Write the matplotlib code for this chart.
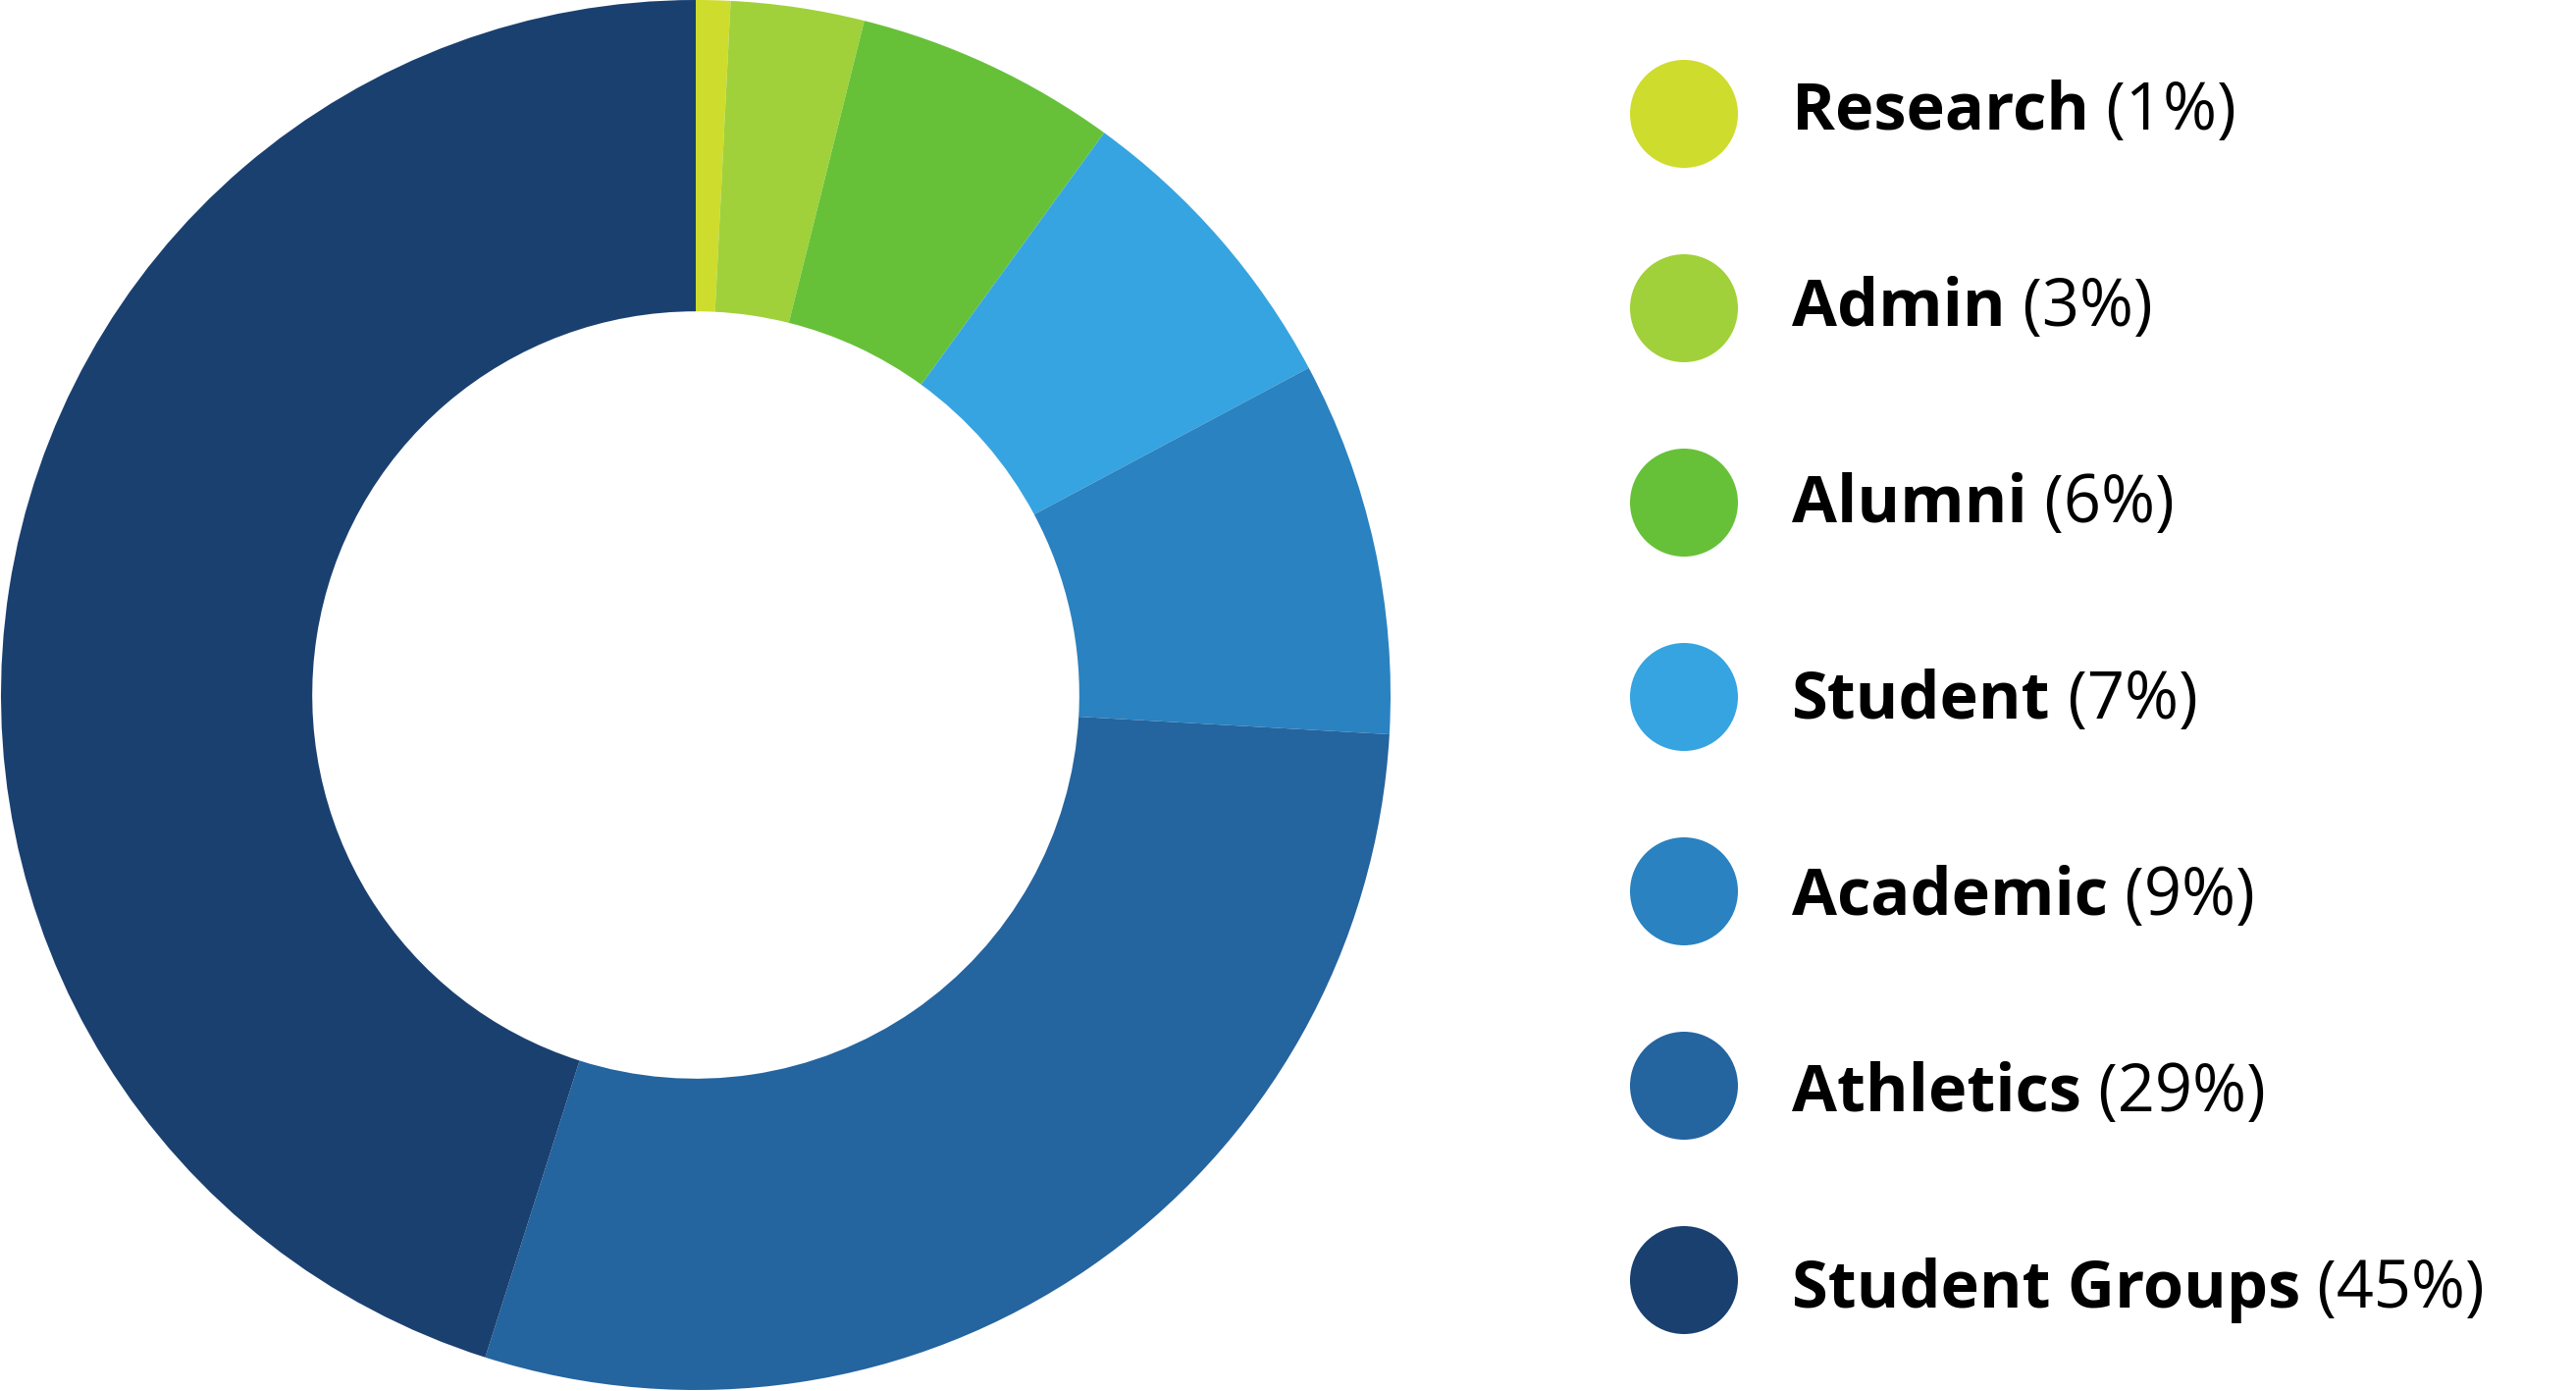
import matplotlib
matplotlib.use("Agg")
import matplotlib.pyplot as plt
from matplotlib.patches import Ellipse

categories = ["Research", "Admin", "Alumni", "Student", "Academic", "Athletics", "Student Groups"]
values = [0.8, 3.1, 6.1, 7.2, 8.7, 29.0, 45.1]
colors = ["#CEDC2D", "#A0D13A", "#66C139", "#36A4E0", "#2A82C0", "#24649F", "#1A4070"]

W, H = 2625, 1417
fig = plt.figure(figsize=(W / 100, H / 100), dpi=100)
fig.patch.set_facecolor("white")

ax = fig.add_axes([1 / W, 1 / H, 1416 / W, 1416 / H])
ax.pie(values, colors=colors, startangle=90, counterclock=False, radius=1.0,
       wedgeprops=dict(width=0.448, linewidth=0))
ax.set_xlim(-1, 1)
ax.set_ylim(-1, 1)
ax.set_aspect("equal")
ax.axis("off")

fam = ["Open Sans", "DejaVu Sans"]
fs = 48
renderer = fig.canvas.get_renderer()
for i, (cat, val, col) in enumerate(zip(categories, values, colors)):
    cy = 116 + 198 * i
    circ = Ellipse((1716 / W, 1 - cy / H), 110 / W, 110 / H, transform=fig.transFigure,
                   facecolor=col, edgecolor="none")
    fig.patches.append(circ)
    base_y = 1 - (132 + 200 * i) / H
    t = fig.text(1826 / W, base_y, cat, fontsize=fs, fontweight="bold", family=fam,
                 color="#000000", va="baseline", ha="left")
    bb = t.get_window_extent(renderer=renderer)
    fig.text(bb.x1 / W, base_y, f" ({round(val):d}%)", fontsize=fs, family=fam,
             color="#000000", va="baseline", ha="left")

fig.savefig("out.png", dpi=100, facecolor="white")
